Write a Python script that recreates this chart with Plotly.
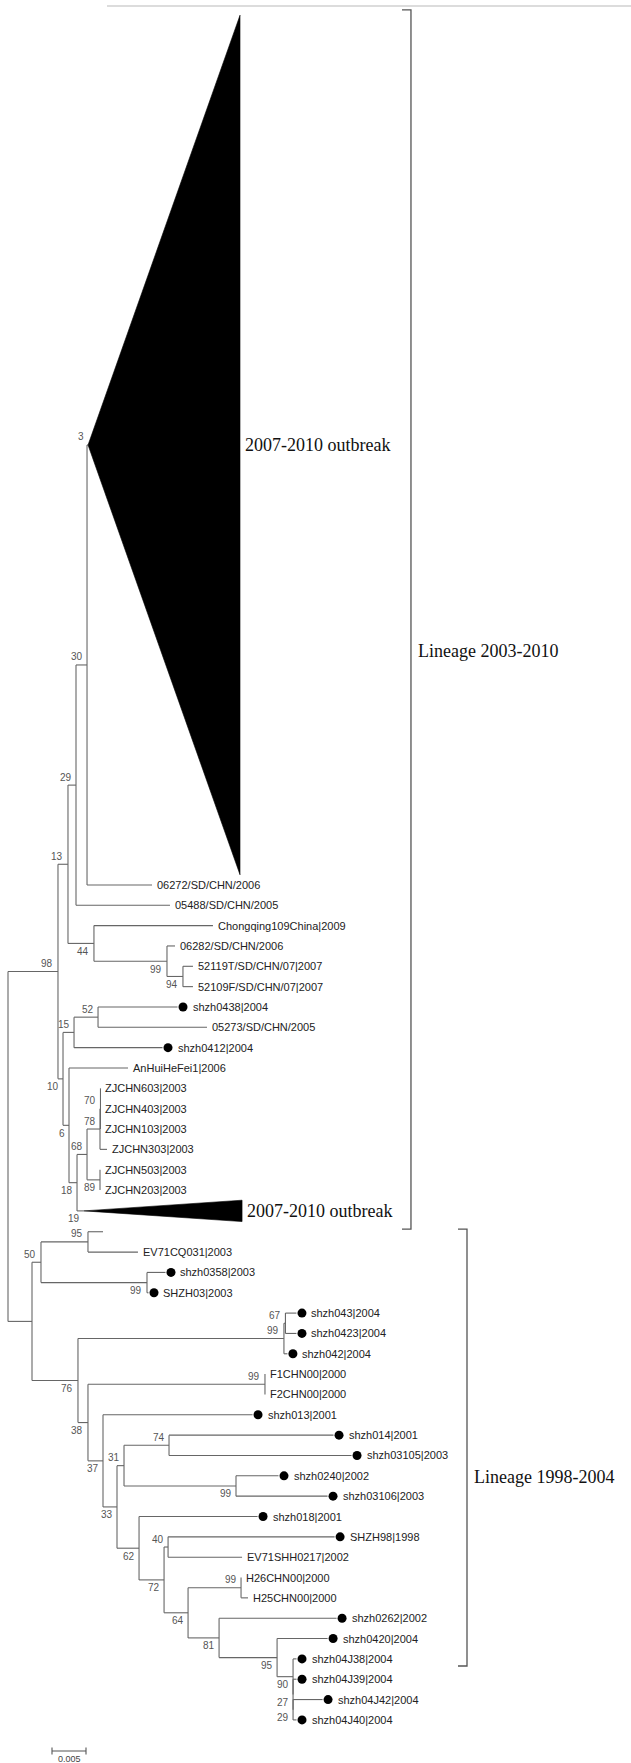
import plotly.graph_objects as go

# ---------------------------------------------------------------------------
# Neighbour-joining tree of EV71 VP1 sequences.
# Each edge: (node, parent, branch length in substitutions/site, bootstrap %)
# Children are drawn top-to-bottom in the order they are listed.
# ---------------------------------------------------------------------------
edges_lineage_2003 = [
    ("n98", "root", 0.00735, "98"),
    ("n13", "n98", 0.00147, "13"),
    ("n29a", "n13", 0.00118, "29"),
    ("n30", "n29a", 0.00162, "30"),
    ("outbreak_a", "n30", 0.00015, "3"),
    ("06272/SD/CHN/2006", "n30", 0.00956, ""),
    ("05488/SD/CHN/2005", "n29a", 0.01382, ""),
    ("n44", "n13", 0.00382, "44"),
    ("Chongqing109China|2009", "n44", 0.01750, ""),
    ("n99a", "n44", 0.01074, "99"),
    ("06282/SD/CHN/2006", "n99a", 0.00118, ""),
    ("n94", "n99a", 0.00235, "94"),
    ("52119T/SD/CHN/07|2007", "n94", 0.00147, ""),
    ("52109F/SD/CHN/07|2007", "n94", 0.00147, ""),
    ("n10", "n98", 0.00074, "10"),
    ("n15", "n10", 0.00162, "15"),
    ("n52", "n15", 0.00353, "52"),
    ("shzh0438|2004", "n52", 0.01169, ""),
    ("05273/SD/CHN/2005", "n52", 0.01603, ""),
    ("shzh0412|2004", "n15", 0.01301, ""),
    ("n6", "n10", 0.00088, "6"),
    ("AnHuiHeFei1|2006", "n6", 0.00868, ""),
    ("n18", "n6", 0.00118, "18"),
    ("n68", "n18", 0.00147, "68"),
    ("n78", "n68", 0.00191, "78"),
    ("n70", "n78", 0.00007, "70"),
    ("ZJCHN603|2003", "n70", 0.0, ""),
    ("ZJCHN403|2003", "n70", 0.0, ""),
    ("ZJCHN103|2003", "n70", 0.0, ""),
    ("ZJCHN303|2003", "n78", 0.00103, ""),
    ("n89", "n68", 0.00191, "89"),
    ("ZJCHN503|2003", "n89", 0.0, ""),
    ("ZJCHN203|2003", "n89", 0.0, ""),
    ("outbreak_b", "n18", 0.00103, "19"),
]

edges_lineage_1998 = [
    ("nX", "root", 0.00353, ""),
    ("n50", "nX", 0.00132, "50"),
    ("n95a", "n50", 0.00691, "95"),
    ("cq_sister", "n95a", 0.00221, ""),
    ("EV71CQ031|2003", "n95a", 0.00735, ""),
    ("n99b", "n50", 0.01559, "99"),
    ("shzh0358|2003", "n99b", 0.00272, ""),
    ("SHZH03|2003", "n99b", 0.00022, ""),
    ("n76", "nX", 0.00676, "76"),
    ("n99c", "n76", 0.03029, "99"),
    ("n67", "n99c", 0.00022, "67"),
    ("shzh043|2004", "n67", 0.00162, ""),
    ("shzh0423|2004", "n67", 0.00162, ""),
    ("shzh042|2004", "n99c", 0.00051, ""),
    ("n38", "n76", 0.00147, "38"),
    ("n99d", "n38", 0.02603, "99"),
    ("F1CHN00|2000", "n99d", 0.0, ""),
    ("F2CHN00|2000", "n99d", 0.0, ""),
    ("n37", "n38", 0.00221, "37"),
    ("shzh013|2001", "n37", 0.02199, ""),
    ("n33", "n37", 0.00206, "33"),
    ("n31", "n33", 0.00103, "31"),
    ("n74", "n31", 0.00662, "74"),
    ("shzh014|2001", "n74", 0.02419, ""),
    ("shzh03105|2003", "n74", 0.02684, ""),
    ("n99e", "n31", 0.01647, "99"),
    ("shzh0240|2002", "n99e", 0.00625, ""),
    ("shzh03106|2003", "n99e", 0.01346, ""),
    ("n62", "n33", 0.00324, "62"),
    ("shzh018|2001", "n62", 0.01743, ""),
    ("n72", "n62", 0.00368, "72"),
    ("n40", "n72", 0.00059, "40"),
    ("SHZH98|1998", "n40", 0.02449, ""),
    ("EV71SHH0217|2002", "n40", 0.01088, ""),
    ("n64", "n72", 0.00353, "64"),
    ("n99f", "n64", 0.00779, "99"),
    ("H26CHN00|2000", "n99f", 0.0, ""),
    ("H25CHN00|2000", "n99f", 0.00103, ""),
    ("n81", "n64", 0.00456, "81"),
    ("shzh0262|2002", "n81", 0.01728, ""),
    ("n95b", "n81", 0.00853, "95"),
    ("shzh0420|2004", "n95b", 0.00743, ""),
    ("n90", "n95b", 0.00235, "90"),
    ("shzh04J38|2004", "n90", 0.00051, ""),
    ("n27", "n90", 0.0, "27"),
    ("shzh04J39|2004", "n27", 0.00051, ""),
    ("n29b", "n27", 0.0, "29"),
    ("shzh04J42|2004", "n29b", 0.00434, ""),
    ("shzh04J40|2004", "n29b", 0.00051, ""),
]

# Shenzhen isolates, flagged with a filled circle
marked_leaves = [
    "shzh0438|2004", "shzh0412|2004", "shzh0358|2003", "SHZH03|2003",
    "shzh043|2004", "shzh0423|2004", "shzh042|2004", "shzh013|2001",
    "shzh014|2001", "shzh03105|2003", "shzh0240|2002", "shzh03106|2003",
    "shzh018|2001", "SHZH98|1998", "shzh0262|2002", "shzh0420|2004",
    "shzh04J38|2004", "shzh04J39|2004", "shzh04J42|2004", "shzh04J40|2004",
]
unnamed_leaves = ["cq_sister"]

# Collapsed subtrees: node, depth of the deepest tip, displayed height (rows)
collapsed_nodes = ["outbreak_a", "outbreak_b"]
collapsed_depth = [0.02235, 0.02324]
collapsed_rows = [42.26, 1.05]
collapsed_text = ["2007-2010 outbreak", "2007-2010 outbreak"]

# Lineage brackets: x (subst./site), top row, bottom row, label, label row
bracket_x = [0.05926, 0.06750]
bracket_top = [-0.26, 59.68]
bracket_bottom = [59.68, 81.16]
bracket_text = ["Lineage 2003-2010", "Lineage 1998-2004"]
bracket_text_row = [31.26, 71.87]

scale_length = 0.005

# ---------------------------------------------------------------------------
W, H = 631, 1763
PX_PER_UNIT = 34 / scale_length      # horizontal pixels per substitution/site
ROW_PX = 20.34                        # vertical pixels per tip row
ROOT_PX, TOP_PX = 8, 15.2

LINE = "#666666"
SANS = "Liberation Sans, Arial, sans-serif"
SERIF = "Liberation Serif, Times New Roman, serif"

edges = edges_lineage_2003 + edges_lineage_1998
children, parent, blen, boot = {}, {}, {}, {}
for node, par, length, bs in edges:
    children.setdefault(par, []).append(node)
    parent[node], blen[node], boot[node] = par, length, bs
collapsed = {n: (d, r, t) for n, d, r, t in
             zip(collapsed_nodes, collapsed_depth, collapsed_rows, collapsed_text)}

# x: cumulative distance from the root
xpos = {"root": 0.0}
order = ["root"]
i = 0
while i < len(order):
    n = order[i]
    for c in children.get(n, []):
        xpos[c] = xpos[n] + blen[c]
        order.append(c)
    i += 1

# y: tip rows, internal nodes midway between first and last child
ypos = {}


def place(n, cursor):
    if n in collapsed:
        h = collapsed[n][1]
        ypos[n] = cursor + h / 2
        return cursor + h
    kids = children.get(n, [])
    if not kids:
        ypos[n] = cursor + 0.5
        return cursor + 1
    for k in kids:
        cursor = place(k, cursor)
    ypos[n] = (ypos[kids[0]] + ypos[kids[-1]]) / 2
    return cursor


place("root", 0.0)

# rectangular branches
lx, ly = [], []
for n in order:
    if n != "root":
        lx += [xpos[parent[n]], xpos[n], None]
        ly += [ypos[n], ypos[n], None]
    kids = children.get(n, [])
    if kids and n not in collapsed:
        lx += [xpos[n], xpos[n], None]
        ly += [ypos[kids[0]], ypos[kids[-1]], None]

fig = go.Figure()
fig.add_trace(go.Scatter(x=lx, y=ly, mode="lines",
                         line=dict(color=LINE, width=1.1),
                         hoverinfo="skip", showlegend=False))

annotations = []

# collapsed clades as filled triangles
for n, (depth, rows, text) in collapsed.items():
    x0, yc = xpos[n], ypos[n]
    fig.add_trace(go.Scatter(
        x=[x0, x0 + depth, x0 + depth, x0],
        y=[yc, yc - rows / 2, yc + rows / 2, yc],
        mode="lines", fill="toself", fillcolor="black",
        line=dict(color="black", width=0.6),
        hoverinfo="skip", showlegend=False))
    annotations.append(dict(x=x0 + depth, y=yc, text=text, showarrow=False,
                            xanchor="left", yanchor="middle", xshift=4, borderpad=0,
                            font=dict(family=SERIF, size=18, color="#111")))

leaves = [n for n in order if n not in children and n not in collapsed]
dot_x, dot_y = [], []
for n in leaves:
    if n in marked_leaves:
        dot_x.append(xpos[n] + 5.5 / PX_PER_UNIT)
        dot_y.append(ypos[n])
        shift = 14
    else:
        shift = 4
    if n in unnamed_leaves:
        continue
    annotations.append(dict(x=xpos[n], y=ypos[n], text=n, showarrow=False,
                            xanchor="left", yanchor="middle", xshift=shift,
                            borderpad=0,
                            font=dict(family=SANS, size=11, color="#222")))

fig.add_trace(go.Scatter(x=dot_x, y=dot_y, mode="markers",
                         marker=dict(color="black", size=9, line=dict(width=0)),
                         hoverinfo="skip", showlegend=False))

# bootstrap values: above the branch for an upper child, below otherwise
for n in order:
    if n == "root" or not boot[n]:
        continue
    upper = children[parent[n]][0] == n
    annotations.append(dict(x=xpos[n], y=ypos[n], text=boot[n], showarrow=False,
                            xanchor="right", yanchor="middle", xshift=-3.5,
                            yshift=8 if upper else -8, borderpad=0,
                            font=dict(family=SANS, size=10, color="#555")))

# lineage brackets
for bx, top, bot, text, trow in zip(bracket_x, bracket_top, bracket_bottom,
                                    bracket_text, bracket_text_row):
    tick = 9 / PX_PER_UNIT
    fig.add_trace(go.Scatter(x=[bx - tick, bx, bx, bx - tick], y=[top, top, bot, bot],
                             mode="lines", line=dict(color="#555", width=1.3),
                             hoverinfo="skip", showlegend=False))
    annotations.append(dict(x=bx, y=trow, text=text, showarrow=False,
                            xanchor="left", yanchor="middle", xshift=6, borderpad=0,
                            font=dict(family=SERIF, size=18, color="#111")))

# scale bar
sb_x0 = 44 / PX_PER_UNIT
sb_row = (1751 - TOP_PX) / ROW_PX
cap = 3.5 / ROW_PX
fig.add_trace(go.Scatter(
    x=[sb_x0, sb_x0, None, sb_x0, sb_x0 + scale_length, None,
       sb_x0 + scale_length, sb_x0 + scale_length],
    y=[sb_row - cap, sb_row + cap, None, sb_row, sb_row, None,
       sb_row - cap, sb_row + cap],
    mode="lines", line=dict(color="#555", width=1.1),
    hoverinfo="skip", showlegend=False))
annotations.append(dict(x=sb_x0 + scale_length / 2, y=sb_row, text=f"{scale_length:.3f}",
                        showarrow=False, xanchor="center", yanchor="top", yshift=-2,
                        borderpad=0, font=dict(family=SANS, size=9, color="#444")))

fig.update_layout(
    width=W, height=H,
    margin=dict(l=0, r=0, t=0, b=0),
    paper_bgcolor="white", plot_bgcolor="white",
    showlegend=False,
    annotations=annotations,
    shapes=[dict(type="line", xref="paper", yref="paper",
                 x0=107 / W, x1=1, y0=1 - 6 / H, y1=1 - 6 / H,
                 line=dict(color="#dcdcdc", width=2))],
    xaxis=dict(visible=False, range=[-ROOT_PX / PX_PER_UNIT, (W - ROOT_PX) / PX_PER_UNIT],
               fixedrange=True),
    yaxis=dict(visible=False, range=[(H - TOP_PX) / ROW_PX, -TOP_PX / ROW_PX],
               fixedrange=True),
)

fig.write_html("out.html", config={"displayModeBar": False})
